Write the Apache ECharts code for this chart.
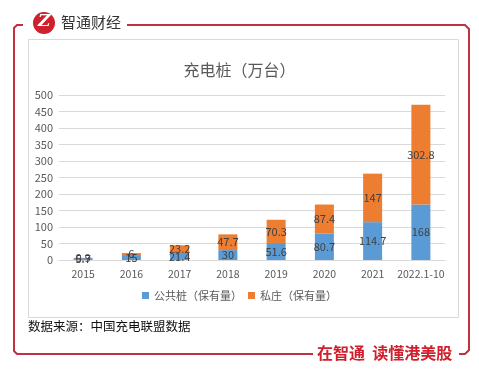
<!DOCTYPE html>
<html>
<head>
<meta charset="utf-8">
<script src="https://cdn.jsdelivr.net/npm/echarts@6/dist/echarts.min.js"></script>
<style>
  html, body { margin: 0; padding: 0; background: #fff; }
  #main { width: 479px; height: 375px; }
</style>
</head>
<body>
<div id="main"></div>
<script>
// data
var years = ["2015", "2016", "2017", "2018", "2019", "2020", "2021", "2022.1-10"];
var publicPiles = [5.7, 15, 21.4, 30, 51.6, 80.7, 114.7, 168];
var privatePiles = [0.9, 6, 23.2, 47.7, 70.3, 87.4, 147, 302.8];
var seriesNames = ["公共桩（保有量）", "私庄（保有量）"];

var FONT = '"Noto Sans CJK SC", "Microsoft YaHei", sans-serif';
var RED = "#C3303F";

var chart = echarts.init(document.getElementById("main"), null, { renderer: "canvas" });

var option = {
  backgroundColor: "#ffffff",
  animation: false,
  textStyle: { fontFamily: FONT },
  title: {
    text: "充电桩（万台）",
    left: "center",
    top: 57,
    textStyle: { fontSize: 16, fontWeight: "normal", color: "#595959", fontFamily: FONT }
  },
  legend: {
    bottom: 69,
    left: "center",
    itemWidth: 7,
    itemHeight: 7,
    itemGap: 6,
    icon: "rect",
    textStyle: { fontSize: 11, color: "#595959", fontFamily: FONT },
    data: seriesNames
  },
  grid: { left: 59, top: 95, width: 386, height: 165 },
  xAxis: {
    type: "category",
    data: years,
    axisLine: { lineStyle: { color: "#D9D9D9" } },
    axisTick: { show: false },
    axisLabel: { color: "#595959", fontSize: 10.5, margin: 9, interval: 0 }
  },
  yAxis: {
    type: "value",
    min: 0,
    max: 500,
    interval: 50,
    axisLine: { show: false },
    axisTick: { show: false },
    splitLine: { lineStyle: { color: "#D9D9D9" } },
    axisLabel: { color: "#595959", fontSize: 11, margin: 6 }
  },
  series: [
    {
      name: seriesNames[0],
      type: "bar",
      stack: "total",
      barWidth: 19,
      data: publicPiles,
      itemStyle: { color: "#5B9BD5" },
      label: { show: true, position: "inside", color: "#404040", fontSize: 11 }
    },
    {
      name: seriesNames[1],
      type: "bar",
      stack: "total",
      barWidth: 19,
      data: privatePiles,
      itemStyle: { color: "#ED7D31" },
      label: { show: true, position: "inside", color: "#404040", fontSize: 11 }
    }
  ],
  graphic: [
    // inner chart box
    {
      type: "rect",
      z: -10,
      silent: true,
      shape: { x: 28.5, y: 39.5, width: 430, height: 278 },
      style: { fill: "#ffffff", stroke: "#D9D9D9", lineWidth: 1 }
    },
    // red frame, left part
    {
      type: "polyline",
      silent: true,
      shape: { points: [[23, 25], [17, 25], [14, 28], [14, 351], [17, 354], [313, 354]] },
      style: { fill: null, stroke: RED, lineWidth: 2 }
    },
    // red frame, top and right part
    {
      type: "polyline",
      silent: true,
      shape: { points: [[127, 25], [465, 25], [469, 29], [469, 350], [465, 354], [459, 354]] },
      style: { fill: null, stroke: RED, lineWidth: 2 }
    },
    // logo
    {
      type: "circle",
      silent: true,
      shape: { cx: 44, cy: 23, r: 11 },
      style: { fill: "#D0202E" }
    },
    {
      type: "text",
      silent: true,
      left: 38,
      top: 13,
      style: { text: "Z", fill: "#ffffff", font: "italic bold 17px 'DejaVu Serif', serif" }
    },
    {
      type: "text",
      silent: true,
      left: 61,
      top: 15,
      style: { text: "智通财经", fill: "#333333", font: "15px " + FONT }
    },
    // source note
    {
      type: "text",
      silent: true,
      left: 28,
      top: 320,
      style: { text: "数据来源：中国充电联盟数据", fill: "#111111", font: "12.5px " + FONT }
    },
    // slogan
    {
      type: "text",
      silent: true,
      left: 317,
      top: 345,
      style: { text: "在智通  读懂港美股", fill: "#D0202E", font: "bold 16px " + FONT }
    }
  ]
};

chart.setOption(option);
</script>
</body>
</html>
